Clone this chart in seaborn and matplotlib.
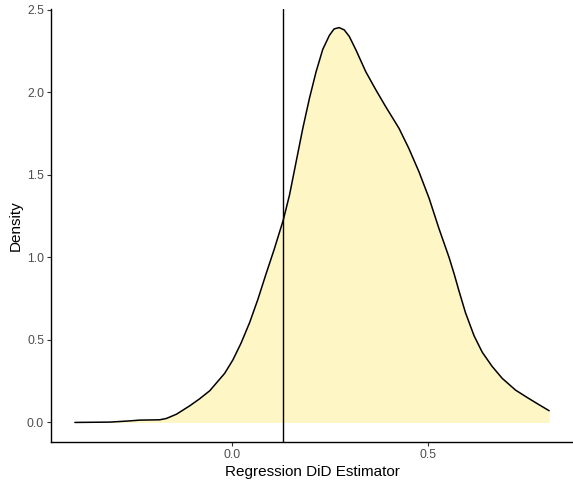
import numpy as np
import pandas as pd
import matplotlib
matplotlib.use("Agg")
import matplotlib.pyplot as plt
import seaborn as sns

# density curve
estimator = [-0.402, -0.3125, -0.270, -0.236, -0.185, -0.168, -0.142, -0.108, -0.083,
             -0.057, -0.019, 0.002, 0.023, 0.045, 0.066, 0.087, 0.108, 0.131, 0.147,
             0.164, 0.181, 0.198, 0.215, 0.232, 0.249, 0.261, 0.274, 0.287, 0.300,
             0.317, 0.342, 0.368, 0.393, 0.427, 0.452, 0.478, 0.504, 0.529, 0.555,
             0.568, 0.580, 0.597, 0.619, 0.640, 0.665, 0.691, 0.725, 0.759, 0.784, 0.811]
density = [0.0, 0.002, 0.008, 0.014, 0.016, 0.024, 0.05, 0.101, 0.143,
           0.192, 0.297, 0.378, 0.48, 0.605, 0.745, 0.90, 1.05, 1.226, 1.378,
           1.58, 1.782, 1.964, 2.125, 2.26, 2.345, 2.384, 2.392, 2.378, 2.338,
           2.256, 2.125, 2.014, 1.913, 1.782, 1.661, 1.519, 1.358, 1.176, 1.00,
           0.90, 0.80, 0.665, 0.525, 0.425, 0.34, 0.267, 0.196, 0.145, 0.109, 0.071]
true_effect = 0.131
x_ticks = [0.0, 0.5]
y_ticks = [0.0, 0.5, 1.0, 1.5, 2.0, 2.5]

df = pd.DataFrame({"x": estimator, "y": density})

sns.set_theme(style="white")
plt.rcParams["font.family"] = ["Liberation Sans", "DejaVu Sans"]

fig = plt.figure(figsize=(5.73, 4.8), dpi=100)
ax = fig.add_axes([0.089, 0.079, 0.911, 0.902])

ax.fill_between(df["x"], 0, df["y"], color="#FEF6C4", linewidth=0)
sns.lineplot(data=df, x="x", y="y", ax=ax, color="black", linewidth=1.1, sort=False)
ax.axvline(true_effect, color="black", linewidth=1.0)

ax.set_xlim(-0.463, 0.872)
ax.set_ylim(-0.119, 2.504)
ax.set_xticks(x_ticks)
ax.set_xticklabels(["0.0", "0.5"])
ax.set_yticks(y_ticks)
ax.set_yticklabels(["0.0", "0.5", "1.0", "1.5", "2.0", "2.5"])
ax.set_xlabel("Regression DiD Estimator", fontsize=11, color="black", labelpad=3)
ax.set_ylabel("Density", fontsize=11, color="black", labelpad=3)
ax.tick_params(axis="both", which="major", length=3, width=0.8, color="#333333",
               labelsize=8.8, labelcolor="#4D4D4D", pad=2, bottom=True, left=True)
for s in ["top", "right"]:
    ax.spines[s].set_visible(False)
for s in ["left", "bottom"]:
    ax.spines[s].set_color("black")
    ax.spines[s].set_linewidth(1.0)
ax.grid(False)

fig.savefig("out.png", dpi=100)
